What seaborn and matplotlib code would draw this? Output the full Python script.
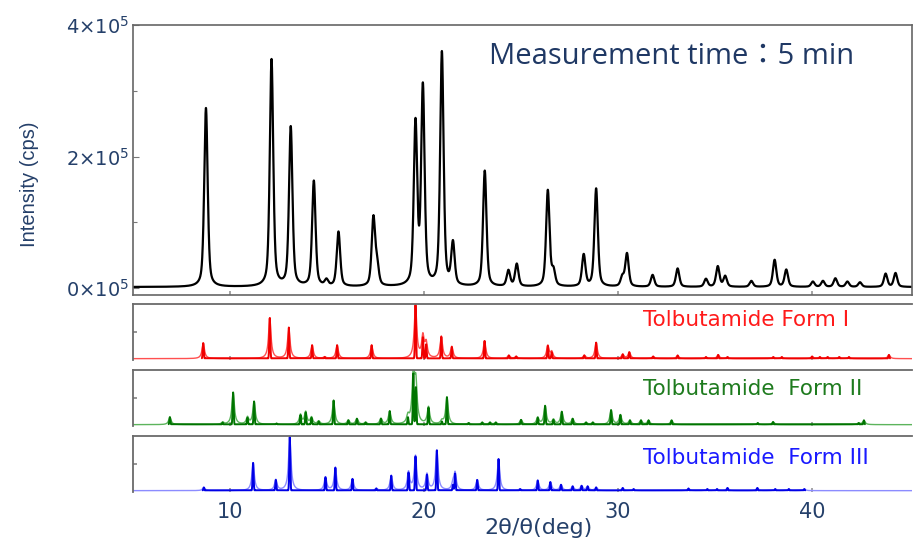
import numpy as np
import pandas as pd
import matplotlib
matplotlib.use("Agg")
import matplotlib.pyplot as plt
from matplotlib.ticker import FixedLocator, FixedFormatter
import seaborn as sns

# ---- measured pattern (2theta in deg, peak height in cps) ----
meas_pos = [8.76, 12.14, 13.13, 14.32, 14.97, 15.59, 17.39, 17.58, 19.56, 19.94,
            20.92, 21.49, 23.13, 24.35, 24.78, 26.38, 26.67, 28.23, 28.87, 30.22,
            30.46, 31.78, 33.07, 34.53, 35.14, 35.52, 36.87, 38.07, 38.67, 40.04,
            40.56, 41.20, 41.82, 42.47, 43.79, 44.30]
meas_int = [272000, 345000, 242000, 160000, 9000, 83000, 103000, 30000, 245000, 300000,
            355000, 64000, 176000, 24000, 34000, 146000, 22000, 48000, 149000, 14000,
            50000, 18000, 28000, 12000, 31000, 16000, 9000, 41000, 26000, 8000,
            9000, 13000, 8000, 7000, 20000, 21000]
meas_background = 1500

# ---- reference patterns (relative intensity, %) ----
form1_pos = [8.62, 12.05, 13.03, 14.23, 14.88, 15.52, 17.30, 19.56, 19.94, 20.11,
             20.89, 21.43, 23.12, 24.37, 24.75, 26.38, 26.58, 28.26, 28.87, 30.24,
             30.58, 31.81, 33.07, 34.53, 35.16, 35.64, 38.00, 38.44, 40.00, 40.40,
             40.80, 41.40, 41.90, 43.96]
form1_int = [29, 76, 58, 25, 3, 25, 25, 100, 40, 27,
             41, 22, 33, 6, 4, 24, 12, 6, 30, 8,
             12, 4, 6, 3, 7, 3, 3, 3, 4, 3,
             3, 3, 3, 7]

form2_pos = [6.90, 9.62, 10.16, 10.90, 11.24, 12.40, 13.63, 13.90, 14.20, 14.57,
             15.34, 16.10, 16.54, 16.99, 17.78, 18.23, 19.17, 19.45, 19.58, 20.23,
             20.92, 21.18, 22.30, 23.00, 23.40, 23.70, 25.00, 25.86, 26.24, 26.67,
             27.10, 27.66, 28.35, 28.70, 29.64, 30.12, 30.61, 31.18, 31.57, 32.76,
             37.20, 37.99, 42.40, 42.67]
form2_int = [14, 4, 60, 13, 43, 2, 18, 23, 13, 6,
             45, 8, 11, 4, 11, 25, 14, 96, 70, 32,
             6, 51, 3, 4, 4, 4, 9, 13, 35, 9,
             24, 11, 4, 4, 27, 18, 8, 8, 8, 8,
             3, 5, 3, 8]

form3_pos = [8.65, 11.19, 12.36, 13.08, 14.92, 15.43, 16.31, 17.54, 18.31, 19.20,
             19.56, 20.15, 20.66, 21.49, 21.60, 22.74, 23.84, 24.95, 25.86, 26.51,
             27.06, 27.66, 28.12, 28.43, 28.87, 30.24, 30.80, 33.63, 34.60, 35.10,
             35.64, 37.18, 38.10, 38.80, 39.60]
form3_int = [6, 52, 20, 100, 25, 43, 22, 4, 28, 34,
             64, 30, 75, 11, 32, 20, 59, 3, 19, 16,
             11, 8, 9, 8, 6, 5, 3, 4, 3, 3,
             5, 5, 3, 3, 3]

ref_labels = ["Tolbutamide Form I", "Tolbutamide  Form II", "Tolbutamide  Form III"]
ref_text_colors = ["#ff1a1a", "#1e7b1e", "#1a1aff"]
ref_peak_colors = ["#f00000", "#007400", "#0000e6"]
ref_light_colors = ["#ff5050", "#5cb45c", "#8c8cff"]

x_ticks = [10, 20, 30, 40]
y_ticks = [0, 200000, 400000]
y_tick_labels = ["0\u00d710$^{5}$", "2\u00d710$^{5}$", "4\u00d710$^{5}$"]

TWO_THETA = np.arange(5.0, 45.3, 0.004)


def pseudo_voigt(x, pos, amp, fwhm, eta):
    y = np.zeros_like(x)
    for p, a in zip(pos, amp):
        d = (x - p) / (fwhm / 2.0)
        lor = 1.0 / (1.0 + d ** 2)
        gau = np.exp(-np.log(2.0) * d ** 2)
        y += a * (eta * lor + (1 - eta) * gau)
    return y


sns.set_theme(style="white")
plt.rcParams["font.family"] = ["DejaVu Sans"]
navy = "#25406a"

fig = plt.figure(figsize=(9.14, 5.40), dpi=100)
W, H = 914.0, 540.0


def box(left, top, right, bottom):
    return [left / W, 1 - bottom / H, (right - left) / W, (bottom - top) / H]


ax_main = fig.add_axes(box(133, 25, 912, 295))
panel_boxes = [box(133, 304, 912, 360), box(133, 370, 912, 426), box(133, 436, 912, 492)]
panels = [fig.add_axes(b, sharex=ax_main) for b in panel_boxes]

# measured pattern
meas = pd.DataFrame({
    "two_theta": TWO_THETA,
    "cps": meas_background + pseudo_voigt(TWO_THETA, meas_pos, meas_int, 0.21, 0.5),
})
sns.lineplot(data=meas, x="two_theta", y="cps", ax=ax_main, color="black",
             linewidth=1.6, estimator=None, sort=False)
ax_main.set_xlim(5.0, 45.15)
ax_main.set_ylim(-10600, 400000)
ax_main.set_xlabel("")
ax_main.set_ylabel("")
ax_main.yaxis.set_major_locator(FixedLocator(y_ticks))
ax_main.yaxis.set_major_formatter(FixedFormatter(y_tick_labels))
ax_main.yaxis.set_minor_locator(FixedLocator([100000, 300000]))
ax_main.xaxis.set_major_locator(FixedLocator(x_ticks))
ax_main.tick_params(axis="y", which="both", direction="in", left=True, length=4,
                    width=0.8, color="#777777", labelsize=14, labelcolor=navy, pad=3)
ax_main.tick_params(axis="y", which="minor", length=3)
ax_main.tick_params(axis="x", direction="in", bottom=True, length=3, color="#999999",
                    labelbottom=False)
for s in ax_main.spines.values():
    s.set_color("#666666")
    s.set_linewidth(1.2)
ax_main.text(0.457, 0.885, "Measurement time\uff1a5 min", transform=ax_main.transAxes,
             fontsize=21, color="#1f3864", ha="left", va="center",
             family=["Open Sans", "Noto Sans CJK JP", "DejaVu Sans"])

# reference patterns
refs = [(form1_pos, form1_int), (form2_pos, form2_int), (form3_pos, form3_int)]
for i, (ax, (pos, inten)) in enumerate(zip(panels, refs)):
    wide = pd.DataFrame({"two_theta": TWO_THETA,
                         "rel": pseudo_voigt(TWO_THETA, pos, inten, 0.15, 1.0)})
    narrow_vals = pseudo_voigt(TWO_THETA, pos, inten, 0.06, 0.0)
    narrow = pd.DataFrame({"two_theta": TWO_THETA,
                           "rel": np.where(narrow_vals > 0.6, narrow_vals, np.nan)})
    sns.lineplot(data=wide, x="two_theta", y="rel", ax=ax, color=ref_light_colors[i],
                 linewidth=1.0, estimator=None, sort=False)
    sns.lineplot(data=narrow, x="two_theta", y="rel", ax=ax, color=ref_peak_colors[i],
                 linewidth=1.4, estimator=None, sort=False)
    ax.set_ylim(-2.5, 102)
    ax.set_xlabel("")
    ax.set_ylabel("")
    ax.yaxis.set_major_locator(FixedLocator([50]))
    ax.tick_params(axis="y", direction="in", left=True, length=3, color="#888888",
                   labelleft=False)
    ax.tick_params(axis="x", direction="in", bottom=True, length=3, color="#999999",
                   labelbottom=False)
    ax.spines["right"].set_visible(False)
    ax.spines["bottom"].set_visible(False)
    for side in ("top", "left"):
        ax.spines[side].set_color("#6a6a6a")
        ax.spines[side].set_linewidth(1.3)
    fig.text(643 / W, 1 - (320 + 69 * i) / H, ref_labels[i], color=ref_text_colors[i],
             fontsize=15.5, ha="left", va="center")

bottom = panels[-1]
bottom.tick_params(axis="x", labelbottom=True, labelsize=15, labelcolor=navy, pad=7)

fig.text(539 / W, 1 - 528 / H, "2\u03b8/\u03b8(deg)", fontsize=16, color=navy,
         ha="center", va="center")
fig.text(30 / W, 1 - 184 / H, "Intensity (cps)", rotation=90, fontsize=14.5, color=navy,
         ha="center", va="center",
         family=["Liberation Sans Narrow", "Liberation Sans", "DejaVu Sans"])

fig.savefig("out.png", dpi=100, facecolor="white")
